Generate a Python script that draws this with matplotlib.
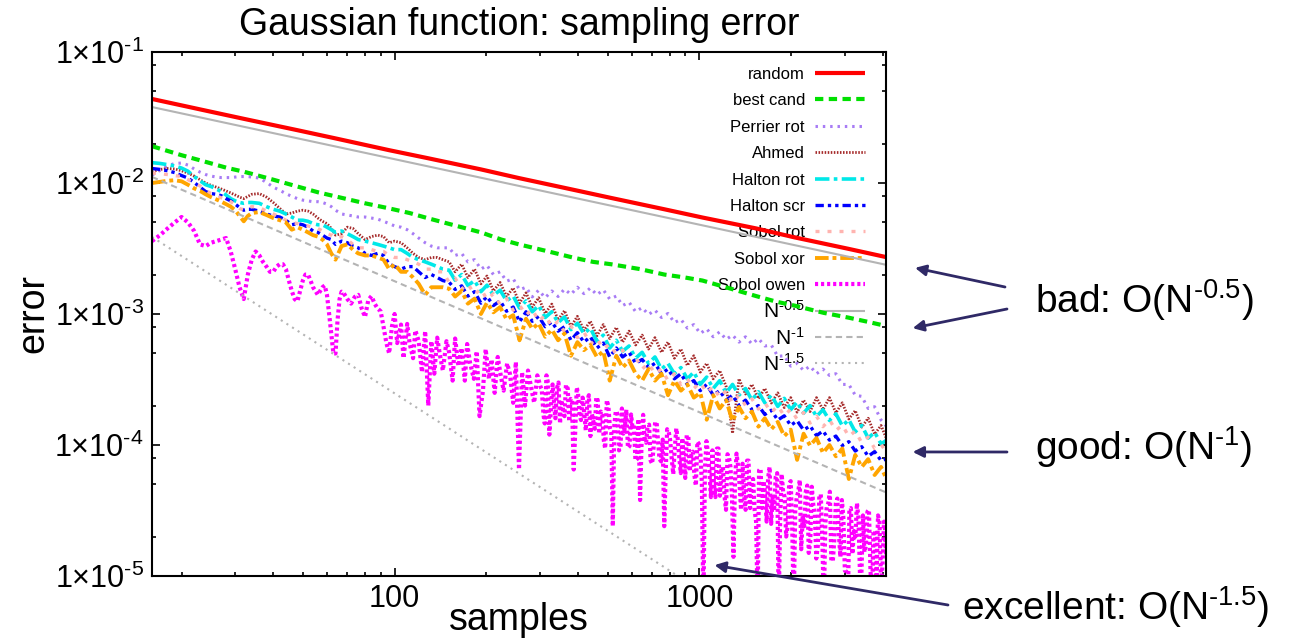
import matplotlib
matplotlib.use("Agg")
import matplotlib.pyplot as plt
from matplotlib.lines import Line2D
from matplotlib.ticker import FixedLocator, FuncFormatter, NullFormatter
import math

plt.rcParams['font.family'] = ['Liberation Sans', 'DejaVu Sans']
plt.rcParams['mathtext.fontset'] = 'custom'
plt.rcParams['mathtext.rm'] = 'Liberation Sans'
plt.rcParams['mathtext.it'] = 'Liberation Sans:italic'
plt.rcParams['mathtext.bf'] = 'Liberation Sans:bold'

HY = '\u2010'  # short hyphen used in the exponents

# ---------------------------------------------------------------- data
n_random = [16, 24, 32, 48, 64, 96, 128, 192, 256, 384, 512, 768, 1024, 1536, 2048, 3072, 4096]
random_err = [0.0438, 0.0357, 0.0309, 0.0253, 0.0219, 0.0178, 0.0155, 0.0127, 0.0109, 0.0089,
              0.0077, 0.0063, 0.00545, 0.0045, 0.00385, 0.00315, 0.00272]

n_bestcand = [16, 20, 24, 28, 32, 40, 48, 56, 64, 80, 96, 112, 128, 160, 192, 224, 256, 320, 384,
              448, 512, 640, 768, 896, 1024, 1280, 1536, 1792, 2048, 2560, 3072, 3584, 4096]
best_cand = [0.0191, 0.0163, 0.0145, 0.0131, 0.0122, 0.0106, 0.0094, 0.0085, 0.0079, 0.0070,
             0.0064, 0.0059, 0.0054, 0.0047, 0.0042, 0.0037, 0.0034, 0.0030, 0.0027, 0.0025,
             0.0024, 0.0022, 0.0020, 0.0019, 0.0018, 0.00155, 0.00137, 0.00124, 0.00116,
             0.00102, 0.00094, 0.00087, 0.00081]

n_qmc = [16, 17, 18, 19, 20, 21, 22, 23, 24, 25, 26, 27, 28, 29, 30, 31, 32, 33, 34,
         36, 38, 40, 42, 44, 46, 48, 50, 52, 54, 56, 58, 60, 62, 64,
         67, 70, 73, 76, 80, 84, 88, 92, 96, 100, 105, 110, 115, 120, 126, 132, 138, 144,
         151, 158, 166, 174, 183, 192, 201, 211, 222, 233, 245, 257, 270, 283, 297, 312, 328,
         344, 361, 379, 398, 418, 439, 461, 484, 508, 534, 560, 588, 618, 649, 681, 715, 751,
         789, 828, 870, 913, 959, 1007, 1057, 1110, 1166, 1224, 1285, 1349, 1417, 1488, 1562,
         1640, 1722, 1808, 1899, 1994, 2093, 2198, 2308, 2423, 2544, 2672, 2805, 2945, 3093,
         3247, 3410, 3580, 3759, 3947, 4096]

perrier_rot = [
    .0115, .0125, .0135, .0141, .0142, .0137, .0128, .0121, .0116, .0113, .0111, .0110, .0110,
    .0110, .0111, .0112, .0112, .0112, .0111,
    .0109, .0101, .0093, .0088, .0083, .0079, .0076, .0074, .0073, .0072, .0072, .0071, .0069,
    .0066, .0062,
    .0058, .0057, .0056, .0055, .0055, .0054, .0053, .0051, .0049, .0047, .0046, .0044, .0041,
    .0038, .0035, .0033, .0032, .0032,
    3.2e-3, 2.8e-3, 2.9e-3, 2.5e-3, 2.6e-3, 2.2e-3, 2.35e-3, 2.0e-3, 2.1e-3, 1.78e-3,
    1.86e-3, 1.53e-3, 1.6e-3, 1.35e-3, 1.52e-3, 1.33e-3, 1.5e-3, 1.36e-3, 1.55e-3, 1.41e-3,
    1.6e-3, 1.43e-3, 1.58e-3, 1.4e-3, 1.53e-3, 1.3e-3, 1.37e-3, 1.16e-3, 1.23e-3, 1.04e-3,
    1.12e-3, 9.9e-4, 1.07e-3, 9.4e-4, 1.01e-3, 8.6e-4, 9.1e-4, 7.8e-4, 8.3e-4, 7.1e-4,
    7.7e-4, 6.7e-4, 7.3e-4, 6.4e-4, 6.9e-4, 6.1e-4, 6.7e-4, 5.9e-4, 6.5e-4, 5.7e-4,
    5.8e-4, 4.75e-4, 4.8e-4, 4.0e-4, 4.2e-4, 3.7e-4, 4.0e-4, 3.5e-4, 3.8e-4, 3.4e-4,
    3.5e-4, 2.9e-4, 2.9e-4, 2.4e-4, 2.35e-4, 1.9e-4, 1.96e-4, 1.55e-4, 1.4e-4]

ahmed = [
    .0122, .0127, .0129, .0128, .0124, .0119, .0113, .0106, .0100, .0096, .0093, .0090, .0087,
    .0084, .0081, .0078, .0076, .0079, .0082,
    .0083, .0078, .0071, .0064, .0058, .0059, .0061, .0062, .0061, .0058, .0054, .0051, .0049,
    .0045, .0040,
    .0041, .0046, .0045, .0041, .0037, .0039, .0040, .0039, .0035, .0036, .0035, .0032, .0029,
    .0027, .0026, .0027, .0027, .0026,
    2.5e-3, 2.1e-3, 2.4e-3, 1.9e-3, 2.2e-3, 1.7e-3, 1.95e-3, 1.5e-3, 1.74e-3, 1.36e-3,
    1.58e-3, 1.21e-3, 1.45e-3, 1.13e-3, 1.33e-3, 1.01e-3, 1.19e-3, 9.0e-4, 1.06e-3, 8.0e-4,
    9.6e-4, 7.5e-4, 8.8e-4, 6.8e-4, 8.3e-4, 6.5e-4, 7.9e-4, 6.1e-4, 7.4e-4, 5.8e-4,
    6.9e-4, 5.4e-4, 6.6e-4, 5.1e-4, 6.1e-4, 4.6e-4, 5.4e-4, 4.05e-4, 4.8e-4, 3.6e-4,
    4.2e-4, 3.2e-4, 3.7e-4, 2.8e-4, 1.23e-4, 3.2e-4, 2.45e-4, 2.9e-4, 2.26e-4, 2.7e-4,
    2.09e-4, 2.5e-4, 1.93e-4, 2.3e-4, 1.78e-4, 2.2e-4, 1.8e-4, 2.3e-4, 1.86e-4, 2.3e-4,
    1.76e-4, 2.1e-4, 1.58e-4, 1.83e-4, 1.37e-4, 1.6e-4, 1.21e-4, 1.41e-4, 1.14e-4]

halton_rot = [
    .0143, .0141, .0138, .0135, .0130, .0123, .0112, .0104, .0097, .0094, .0090, .0086, .0081,
    .0076, .0073, .0071, .0070, .0071, .0071,
    .0070, .0066, .0063, .0061, .0058, .0055, .0052, .0052, .0051, .0049, .0048, .0048, .0046,
    .0044, .0042,
    .0043, .0041, .0039, .0037, .0036, .0035, .0034, .0033, .0032, .0031, .0031, .0029, .0027,
    .0026, .0025, .0024, .0023, .0022,
    2.16e-3, 1.81e-3, 2.0e-3, 1.65e-3, 1.80e-3, 1.48e-3, 1.66e-3, 1.39e-3, 1.52e-3, 1.26e-3,
    1.37e-3, 1.11e-3, 1.26e-3, 1.04e-3, 1.16e-3, 9.4e-4, 1.04e-3, 8.6e-4, 9.5e-4, 7.6e-4,
    8.5e-4, 7.1e-4, 7.8e-4, 6.2e-4, 6.9e-4, 5.5e-4, 6.3e-4, 5.2e-4, 5.7e-4, 4.6e-4,
    5.1e-4, 4.2e-4, 4.7e-4, 3.8e-4, 4.2e-4, 3.5e-4, 3.9e-4, 3.2e-4, 3.6e-4, 2.9e-4,
    3.3e-4, 2.7e-4, 3.1e-4, 2.5e-4, 2.9e-4, 2.4e-4, 2.7e-4, 2.2e-4, 2.55e-4, 2.1e-4,
    2.4e-4, 1.97e-4, 2.27e-4, 1.86e-4, 2.13e-4, 1.75e-4, 2.0e-4, 1.65e-4, 1.86e-4, 1.54e-4,
    1.73e-4, 1.40e-4, 1.56e-4, 1.26e-4, 1.41e-4, 1.13e-4, 1.25e-4, 1.02e-4, 1.08e-4]

halton_scr = [
    .0129, .0127, .0124, .0120, .0114, .0109, .0101, .0093, .0086, .0083, .0082, .0080, .0076,
    .0073, .0069, .0065, .0062, .0063, .0063,
    .0061, .0058, .0056, .0055, .0052, .0048, .0049, .0048, .0046, .0043, .0042, .0040, .0038,
    .0037, .0034,
    .0036, .0035, .0033, .0032, .0029, .0028, .0029, .0028, .0024, .0023, .0022, .0023, .0023,
    .0021, .0019, .0020, .0019, .0018,
    1.75e-3, 1.54e-3, 1.64e-3, 1.37e-3, 1.48e-3, 1.21e-3, 1.36e-3, 1.16e-3, 1.26e-3, 1.05e-3,
    1.13e-3, 8.7e-4, 1.04e-3, 8.8e-4, 9.6e-4, 8.0e-4, 8.7e-4, 7.4e-4, 8.0e-4, 6.3e-4,
    7.2e-4, 6.1e-4, 6.7e-4, 5.5e-4, 6.0e-4, 4.7e-4, 5.5e-4, 4.7e-4, 5.1e-4, 4.2e-4,
    4.5e-4, 3.9e-4, 4.2e-4, 3.5e-4, 3.8e-4, 3.2e-4, 3.5e-4, 2.9e-4, 3.1e-4, 2.6e-4,
    2.9e-4, 2.4e-4, 2.6e-4, 2.2e-4, 2.4e-4, 2.0e-4, 2.2e-4, 1.86e-4, 2.0e-4, 1.71e-4,
    1.84e-4, 1.55e-4, 1.67e-4, 1.41e-4, 1.53e-4, 1.30e-4, 1.40e-4, 1.18e-4, 1.28e-4, 1.09e-4,
    1.17e-4, 9.9e-5, 1.06e-4, 9.0e-5, 9.7e-5, 8.2e-5, 8.9e-5, 7.6e-5, 7.8e-5]

sobol_rot = [
    .0119, .0118, .0116, .0114, .0112, .0106, .0100, .0095, .0088, .0083, .0080, .0077, .0075,
    .0072, .0068, .0064, .0062, .0064, .0066,
    .0065, .0061, .0058, .0055, .0052, .0050, .0049, .0048, .0047, .0046, .0045, .0043, .0041,
    .0040, .0038,
    .0039, .0037, .0034, .0032, .0032, .0031, .0030, .0030, .0028, .0027, .0027, .0026, .0025,
    .0024, .0022, .0022, .0021, .0021,
    1.74e-3, 1.88e-3, 1.55e-3, 1.70e-3, 1.41e-3, 1.56e-3, 1.29e-3, 1.43e-3, 1.18e-3, 1.31e-3,
    1.07e-3, 1.17e-3, 9.8e-4, 1.09e-3, 8.8e-4, 9.8e-4, 8.0e-4, 8.8e-4, 7.3e-4, 8.1e-4,
    6.6e-4, 7.3e-4, 5.9e-4, 6.5e-4, 5.4e-4, 5.9e-4, 4.9e-4, 5.3e-4, 4.4e-4, 4.7e-4,
    3.8e-4, 4.2e-4, 3.5e-4, 3.8e-4, 3.1e-4, 3.5e-4, 2.9e-4, 3.2e-4, 2.7e-4, 3.0e-4,
    2.5e-4, 2.8e-4, 2.3e-4, 2.6e-4, 2.1e-4, 2.4e-4, 2.0e-4, 2.25e-4, 1.88e-4, 2.1e-4,
    1.77e-4, 1.99e-4, 1.67e-4, 1.88e-4, 1.57e-4, 1.77e-4, 1.47e-4, 1.66e-4, 1.38e-4, 1.56e-4,
    1.29e-4, 1.42e-4, 1.16e-4, 1.28e-4, 1.04e-4, 1.15e-4, 9.4e-5, 1.01e-4, 8.9e-5]

sobol_xor = [
    .0100, .0102, .0104, .0105, .0103, .0097, .0091, .0087, .0082, .0078, .0075, .0072, .0069,
    .0066, .0062, .0056, .0051, .0056, .0059,
    .0060, .0057, .0054, .0052, .0050, .0044, .0046, .0044, .0042, .0040, .0039, .0037, .0034,
    .0029, .0026,
    .0033, .0034, .0031, .0029, .0028, .0028, .0027, .0026, .0022, .0024, .0021, .0021, .0019,
    .0017, .0014, .0016, .0016, .0016,
    1.56e-3, 1.36e-3, 1.50e-3, 1.20e-3, 1.31e-3, 1.00e-3, 1.22e-3, 1.03e-3, 1.13e-3, 9.1e-4,
    9.8e-4, 6.3e-4, 9.2e-4, 7.7e-4, 8.5e-4, 6.7e-4, 7.6e-4, 6.3e-4, 7.1e-4, 4.8e-4,
    6.1e-4, 5.3e-4, 5.8e-4, 4.7e-4, 5.2e-4, 3.1e-4, 4.8e-4, 3.9e-4, 4.4e-4, 3.5e-4,
    3.1e-4, 3.8e-4, 3.1e-4, 3.5e-4, 2.4e-4, 3.1e-4, 2.6e-4, 2.9e-4, 2.3e-4, 2.5e-4,
    1.56e-4, 2.4e-4, 1.9e-4, 2.2e-4, 1.52e-4, 1.95e-4, 1.6e-4, 1.8e-4, 1.38e-4, 1.6e-4,
    1.32e-4, 1.5e-4, 1.17e-4, 1.31e-4, 7.7e-5, 1.22e-4, 9.9e-5, 1.13e-4, 8.7e-5, 1.0e-4,
    8.2e-5, 9.4e-5, 5.5e-5, 8.4e-5, 6.8e-5, 7.8e-5, 5.9e-5, 6.8e-5, 5.6e-5]

# Sobol owen: main sample sizes ...
n_owen = [16, 17, 18, 19, 20, 21, 22, 23, 24, 25, 26, 27, 28, 29, 30, 31, 32, 33, 34, 35, 36,
          37, 38, 39, 40, 41, 42, 43, 44, 45, 46, 47, 48, 49, 50, 51, 52, 53, 54, 55, 56, 57,
          58, 59, 60, 61, 62, 63, 64, 65, 66, 67, 68, 70, 72, 74, 76, 78, 80, 82, 84, 86, 88,
          90, 92, 94, 96, 98,
          100, 102, 105, 107, 110, 112, 115, 117, 120, 123, 126, 129, 132, 135, 138, 141, 144,
          148, 151, 155, 158, 162, 166, 170, 173, 177, 182, 186, 190, 195, 199, 204, 208, 213,
          218, 223, 228, 234, 239, 245, 250, 256, 262, 268, 274, 281, 287, 294, 301, 308, 315,
          322, 330, 337, 345, 353, 361, 370, 378, 387, 396, 405, 414, 424, 434, 444, 454, 464,
          475, 486, 497, 509, 520, 532, 545, 557, 570, 583, 597, 610, 624, 639, 654, 669, 684,
          700, 716, 732, 749, 767, 784, 802, 821, 840, 859, 879, 899, 920, 941, 963, 985, 1008,
          1031, 1055, 1079, 1104, 1129, 1155, 1182, 1209, 1237, 1265, 1294, 1324, 1355, 1386,
          1418, 1450, 1484, 1518, 1553, 1588, 1625, 1662, 1700, 1740, 1780, 1821, 1862, 1905,
          1949, 1994, 2040, 2087, 2135, 2184, 2234, 2285, 2338, 2392, 2447, 2503, 2561, 2619,
          2680, 2741, 2804, 2869, 2935, 3002, 3071, 3142, 3214, 3288, 3364, 3441, 3520, 3601,
          3684, 3769, 3856, 3944, 4035, 4096]

sobol_owen = [
    3.6e-3, 4.0e-3, 4.5e-3, 5.0e-3, 5.5e-3, 5.0e-3, 4.3e-3, 3.4e-3, 3.3e-3, 3.5e-3, 3.6e-3,
    3.7e-3, 3.8e-3, 3.0e-3, 2.2e-3, 1.6e-3, 1.3e-3, 2.0e-3, 2.6e-3, 3.0e-3, 2.8e-3, 2.5e-3,
    2.3e-3, 2.1e-3, 2.1e-3, 2.3e-3, 2.4e-3, 2.4e-3, 2.2e-3, 1.8e-3, 1.5e-3, 1.3e-3, 1.25e-3,
    1.5e-3, 1.8e-3, 2.0e-3, 2.0e-3, 1.8e-3, 1.6e-3, 1.5e-3, 1.4e-3, 1.5e-3, 1.6e-3, 1.65e-3,
    1.4e-3, 1.0e-3, 7.0e-4, 5.0e-4, 5.0e-4, 9.0e-4, 1.3e-3, 1.48e-3, 1.45e-3, 1.3e-3, 1.2e-3,
    1.35e-3, 1.4e-3, 1.1e-3, 9.5e-4, 1.28e-3, 1.37e-3, 1.2e-3, 1.1e-3, 1.05e-3, 8.0e-4, 6.0e-4,
    5.0e-4, 8.0e-4,
    1.0e-3, 6.0e-4, 8.3e-4, 4.6e-4, 8.4e-4, 6.0e-4, 4.6e-4, 7.5e-4, 6.2e-4, 3.6e-4,
    7.4e-4, 2.0e-4, 6.2e-4, 3.5e-4, 6.6e-4, 4.8e-4, 3.7e-4, 6.2e-4, 5.1e-4, 3.1e-4,
    6.5e-4, 4.0e-4, 5.5e-4, 3.1e-4, 5.9e-4, 4.2e-4, 3.2e-4, 5.2e-4, 1.66e-4, 2.6e-4,
    5.4e-4, 3.2e-4, 4.5e-4, 2.5e-4, 4.7e-4, 3.4e-4, 2.6e-4, 4.2e-4, 3.5e-4, 2.1e-4,
    4.3e-4, 6.5e-5, 3.6e-4, 2.0e-4, 3.7e-4, 2.7e-4, 2.1e-4, 3.4e-4, 2.8e-4, 1.7e-4,
    3.4e-4, 1.2e-4, 2.9e-4, 1.6e-4, 3.0e-4, 2.2e-4, 1.66e-4, 2.7e-4, 2.25e-4, 6.5e-5,
    2.76e-4, 1.67e-4, 2.3e-4, 1.29e-4, 2.4e-4, 1.73e-4, 1.33e-4, 2.2e-4, 1.8e-4, 1.08e-4,
    2.2e-4, 1.34e-4, 2.4e-5, 1.82e-4, 9.1e-5, 1.9e-4, 1.36e-4, 9.5e-5, 1.71e-4, 1.42e-4,
    7.8e-5, 3.8e-5, 1.7e-4, 1.04e-4, 1.43e-4, 7.2e-5, 1.5e-4, 1.06e-4, 7.5e-5, 2.4e-5,
    1.32e-4, 1.09e-4, 6.0e-5, 1.34e-4, 8.1e-5, 1.13e-4, 5.6e-5, 1.17e-4, 8.4e-5, 5.9e-5,
    1.06e-4, 8.7e-5, 6.0e-6, 1.07e-4, 6.3e-5, 9.1e-5, 4.0e-5, 9.4e-5, 6.5e-5, 4.1e-5,
    8.5e-5, 6.8e-5, 1.4e-5, 8.6e-5, 5.0e-5, 7.2e-5, 3.2e-5, 7.6e-5, 5.2e-5, 3.2e-5,
    6.0e-6, 6.6e-5, 5.3e-5, 2.6e-5, 6.8e-5, 4.0e-5, 5.7e-5, 6.0e-6, 6.0e-5, 4.0e-5,
    2.4e-5, 5.3e-5, 6.0e-6, 4.0e-5, 5.4e-5, 2.9e-5, 4.4e-5, 1.5e-5, 4.8e-5, 3.0e-5,
    1.7e-5, 4.2e-5, 6.0e-6, 3.4e-5, 4.4e-5, 1.3e-5, 3.6e-5, 2.1e-5, 3.8e-5, 1.1e-5,
    6.0e-6, 3.3e-5, 2.2e-5, 3.6e-5, 1.05e-5, 2.9e-5, 1.7e-5, 3.2e-5, 6.0e-6, 2.2e-5,
    2.9e-5, 9.0e-6, 2.6e-5, 1.45e-5]

# ... and the intermediate sample sizes of the dense tail
n_owen_mid = [304, 311, 318, 326, 333, 341, 349, 357, 365, 374, 382, 391, 400, 409, 419, 429,
              439, 449, 459, 469, 480, 491, 503, 514, 526, 538, 551, 563, 576, 590, 603, 617,
              631, 646, 661, 676, 692, 708, 724, 740, 758, 775, 793, 811, 830, 849, 869, 889,
              909, 930, 952, 974, 996, 1019, 1043, 1067, 1091, 1116, 1142, 1168, 1195, 1223,
              1251, 1279, 1309, 1339, 1370, 1402, 1434, 1467, 1501, 1535, 1570, 1606, 1643,
              1681, 1720, 1760, 1800, 1841, 1883, 1927, 1971, 2017, 2063, 2111, 2159, 2209,
              2259, 2311, 2365, 2419, 2475, 2532, 2590, 2649, 2710, 2772, 2836, 2902, 2968,
              3036, 3106, 3178, 3251, 3326, 3402, 3480, 3560, 3642, 3726, 3812, 3900, 3989, 4065]
sobol_owen_mid = [
    2.66e-4, 1.46e-4, 3.06e-4, 1.93e-4, 2.21e-4, 2.70e-4, 1.46e-4, 1.88e-4, 2.88e-4, 1.51e-4,
    2.14e-4, 1.17e-4, 2.46e-4, 1.55e-4, 1.77e-4, 2.17e-4, 1.17e-4, 1.51e-4, 2.32e-4, 1.22e-4,
    1.71e-4, 9.4e-5, 1.97e-4, 1.24e-4, 1.42e-4, 1.74e-4, 9.4e-5, 1.22e-4, 1.86e-4, 9.8e-5,
    1.38e-4, 7.6e-5, 1.58e-4, 1.0e-4, 1.14e-4, 1.40e-4, 7.6e-5, 9.7e-5, 1.49e-4, 7.8e-5,
    1.10e-4, 6.0e-5, 1.27e-4, 8.0e-5, 9.2e-5, 1.12e-4, 6.1e-5, 7.8e-5, 1.19e-4, 6.3e-5,
    8.9e-5, 4.9e-5, 1.02e-4, 5.1e-5, 6.5e-5, 8.7e-5, 4.0e-5, 5.1e-5, 9.4e-5, 4.1e-5,
    6.8e-5, 3.2e-5, 8.0e-5, 4.1e-5, 5.2e-5, 7.0e-5, 3.2e-5, 4.1e-5, 7.6e-5, 3.3e-5,
    5.5e-5, 2.6e-5, 6.4e-5, 3.3e-5, 4.2e-5, 5.6e-5, 2.5e-5, 3.3e-5, 6.1e-5, 2.6e-5,
    4.4e-5, 2.0e-5, 5.1e-5, 2.3e-5, 3.1e-5, 4.4e-5, 1.6e-5, 2.4e-5, 4.9e-5, 1.8e-5,
    3.5e-5, 1.36e-5, 4.1e-5, 1.86e-5, 2.5e-5, 3.6e-5, 1.3e-5, 1.9e-5, 3.9e-5, 1.4e-5,
    2.8e-5, 1.08e-5, 3.2e-5, 1.47e-5, 2.0e-5, 2.8e-5, 1.04e-5, 1.52e-5, 3.1e-5, 1.13e-5,
    2.2e-5, 8.7e-6, 2.6e-5, 1.19e-5, 2.3e-5]

# reference slopes: error = scale * N^(-exponent)
ref_exponents = [0.5, 1.0, 1.5]
ref_scales = [0.152, 0.178, 0.248]
ref_labels = ['N$^{%s0.5}$' % HY, 'N$^{%s1}$' % HY, 'N$^{%s1.5}$' % HY]
n_range = [16, 4096]

# ---------------------------------------------------------------- figure
W, H = 1289, 644
fig = plt.figure(figsize=(W / 100, H / 100), dpi=100)
ax = fig.add_axes([152 / W, 1 - 576 / H, 734 / W, 524 / H])
ax.set_xscale('log')
ax.set_yscale('log')

owen_pts = sorted(zip(n_owen + n_owen_mid, sobol_owen + sobol_owen_mid))
owen_n = [p[0] for p in owen_pts]
owen_e = [p[1] for p in owen_pts]

series = [
    ('random', n_random, random_err, dict(color='#ff0000', lw=3.0)),
    ('best cand', n_bestcand, best_cand, dict(color='#00e000', lw=3.0, dashes=(2.0, 1.3))),
    ('Perrier rot', n_qmc, perrier_rot, dict(color='#a87cf5', lw=2.2, dashes=(0.8, 1.6))),
    ('Ahmed', n_qmc, ahmed, dict(color='#a52a2a', lw=2.0, dashes=(0.55, 0.55))),
    ('Halton rot', n_qmc, halton_rot, dict(color='#00e8e8', lw=2.6, dashes=(4, 1.2, 1, 1.2))),
    ('Halton scr', n_qmc, halton_scr, dict(color='#0000ff', lw=2.4,
                                           dashes=(2.5, 1.2, 1, 1.2, 1, 1.2))),
    ('Sobol rot', n_qmc, sobol_rot, dict(color='#ffb4b0', lw=2.4, dashes=(1.2, 2.4))),
    ('Sobol xor', n_qmc, sobol_xor, dict(color='#ffa500', lw=2.8, dashes=(3.5, 1.0, 1.0, 1.0))),
    ('Sobol owen', owen_n, owen_e, dict(color='#ff00ff', lw=3.0, dashes=(0.75, 0.7))),
]
for label, xs, ys, st in series:
    ax.plot(xs, ys, solid_capstyle='butt', dash_capstyle='butt', zorder=2, **st)

ref_styles = [dict(color='#b4b4b4', lw=1.5),
              dict(color='#b4b4b4', lw=1.5, dashes=(3, 2)),
              dict(color='#b4b4b4', lw=1.5, dashes=(1, 2.2))]
for p, c, st in zip(ref_exponents, ref_scales, ref_styles):
    ax.plot(n_range, [c * n ** (-p) for n in n_range], zorder=2.5, **st)

ax.set_xlim(16, 4096)
ax.set_ylim(1e-5, 1e-1)

# ticks
ax.xaxis.set_major_locator(FixedLocator([100, 1000]))
ax.xaxis.set_major_formatter(FuncFormatter(lambda v, _: '%d' % v))
ax.xaxis.set_minor_locator(FixedLocator([m * 10 ** k for k in (1, 2, 3) for m in range(2, 10)
                                         if 16 <= m * 10 ** k <= 4096]))
ax.xaxis.set_minor_formatter(NullFormatter())
ax.yaxis.set_major_locator(FixedLocator([10.0 ** e for e in range(-5, 0)]))
ax.yaxis.set_major_formatter(FuncFormatter(
    lambda v, _: r'$1{\times}10^{%s%d}$' % (HY, -round(math.log10(v)))))
ax.yaxis.set_minor_locator(FixedLocator([m * 10.0 ** k for k in range(-5, -1) for m in (2, 5, 8)]))
ax.yaxis.set_minor_formatter(NullFormatter())
ax.tick_params(which='both', direction='in', top=True, right=True, width=1.2, labelsize=22)
ax.tick_params(which='major', length=6)
ax.tick_params(which='minor', length=3)
ax.tick_params(axis='y', pad=6)
ax.tick_params(axis='x', pad=6)
for sp in ax.spines.values():
    sp.set_linewidth(1.5)

ax.set_title('Gaussian function: sampling error', fontsize=27, pad=12)
ax.set_xlabel('samples', fontsize=27, labelpad=-9)
ax.set_ylabel('error', fontsize=27, labelpad=2)

# key: label right-aligned, line sample to its right, one row every 26.4 px
key_rows = [(lab, st, 12) for lab, _, _, st in series] + \
           [(lab, st, 15) for lab, st in zip(ref_labels, ref_styles)]
for i, (lab, st, fs) in enumerate(key_rows):
    yc = 73 + 26.4 * i
    base = yc + (6 if fs == 12 else 7.5)
    ax.text(805 / W, 1 - base / H, lab, transform=fig.transFigure, ha='right',
            va='baseline', fontsize=fs, zorder=1)
    ax.add_line(Line2D([815 / W, 865 / W], [1 - yc / H, 1 - yc / H],
                       transform=fig.transFigure, clip_on=False, zorder=1.5,
                       solid_capstyle='butt', dash_capstyle='butt', **st))

# rate annotations on the right
arrow_color = '#2f2966'
notes = [
    ('bad: O(N$^{%s0.5}$)' % HY, 1035, 313),
    ('good: O(N$^{%s1}$)' % HY, 1035, 460),
    ('excellent: O(N$^{%s1.5}$)' % HY, 962, 620),
]
for txt, px, py in notes:
    fig.text(px / W, 1 - py / H, txt, fontsize=28, ha='left', va='baseline')

arrows = [
    ((5100, 2.25e-3), (1005, 287)),
    ((5010, 7.8e-4), (1007, 309)),
    ((5010, 8.85e-5), (1007, 452)),
    ((1121, 1.21e-5), (948, 605)),
]
for tip, (tx, ty) in arrows:
    ax.annotate('', xy=tip, xycoords='data', xytext=(tx, H - ty), textcoords='figure pixels',
                annotation_clip=False,
                arrowprops=dict(arrowstyle='-|>', color=arrow_color, lw=2.0,
                                mutation_scale=16, shrinkA=0, shrinkB=0))

fig.savefig('out.png', dpi=100)
